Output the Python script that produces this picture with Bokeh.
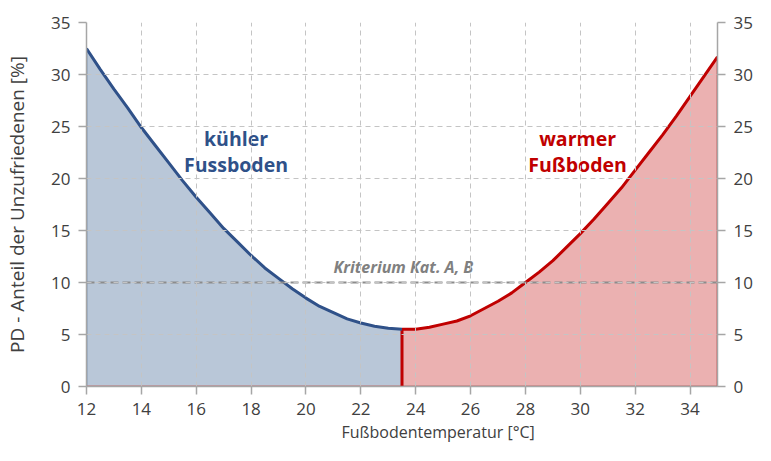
from bokeh.plotting import figure
from bokeh.models import Range1d, LinearAxis, FixedTicker, Title
from bokeh.core.properties import value
from bokeh.embed import file_html
from bokeh.resources import INLINE

# --- data ---
temp_cool = [12, 12.5, 13, 13.5, 14, 14.5, 15, 15.5, 16, 16.5, 17, 17.5, 18, 18.5,
             19, 19.5, 20, 20.5, 21, 21.5, 22, 22.5, 23, 23.5]
pd_cool = [32.5, 30.5, 28.6, 26.8, 24.9, 23.2, 21.5, 19.8, 18.2, 16.7, 15.2, 13.9, 12.6, 11.4,
           10.4, 9.4, 8.5, 7.7, 7.1, 6.5, 6.1, 5.8, 5.6, 5.5]
temp_warm = [23.5, 24, 24.5, 25, 25.5, 26, 26.5, 27, 27.5, 28, 28.5, 29, 29.5, 30, 30.5,
             31, 31.5, 32, 32.5, 33, 33.5, 34, 34.5, 35]
pd_warm = [5.5, 5.5, 5.7, 6.0, 6.3, 6.8, 7.5, 8.2, 9.0, 10.0, 11.0, 12.1, 13.4, 14.7, 16.1,
           17.6, 19.1, 20.8, 22.5, 24.2, 26.0, 27.9, 29.8, 31.7]
criterion = 10
x_ticks = [12, 14, 16, 18, 20, 22, 24, 26, 28, 30, 32, 34]
y_ticks = [0, 5, 10, 15, 20, 25, 30, 35]

FONT = "Open Sans"
BLUE = "#2f5189"
RED = "#c00000"

p = figure(width=755, height=445, output_backend="svg", toolbar_location=None,
           x_range=Range1d(12, 35), y_range=Range1d(0, 35),
           min_border_left=86, min_border_right=36, min_border_top=22, min_border_bottom=59)
p.outline_line_color = None
p.background_fill_color = "white"

# fills
p.varea(x=temp_cool, y1=[0] * len(temp_cool), y2=pd_cool, fill_color="#b9c7d8", fill_alpha=1)
p.varea(x=temp_warm, y1=[0] * len(temp_warm), y2=pd_warm, fill_color="#ebb1b1", fill_alpha=1)

# grid
for g in (p.xgrid, p.ygrid):
    g.grid_line_color = "#c4c4c4"
    g.grid_line_dash = "5 4"
    g.grid_line_width = 1
    g.level = "glyph"
p.xgrid.ticker = FixedTicker(ticks=x_ticks)
p.ygrid.ticker = FixedTicker(ticks=y_ticks)

# edges
p.line(x=[temp_cool[0], temp_cool[0]], y=[0, pd_cool[0]], line_color="#4a6f9f", line_width=1.5)
p.line(x=[temp_cool[0], temp_warm[-1]], y=[0, 0], line_color="#c06a6a", line_width=2)
p.line(x=[temp_warm[0], temp_warm[0]], y=[0, pd_warm[0]], line_color=RED, line_width=3)
p.line(x=[temp_warm[-1], temp_warm[-1]], y=[0, pd_warm[-1]], line_color=RED, line_width=1.5)

# curves
p.line(x=temp_cool, y=pd_cool, line_color=BLUE, line_width=3)
p.line(x=temp_warm, y=pd_warm, line_color=RED, line_width=3)

# criterion line
p.line(x=[12, 35], y=[criterion, criterion], line_color="#8c8c8c", line_width=2, line_dash="8 4")
p.text(x=[23.55], y=[11.45], text=["Kriterium Kat. A, B"], text_font=value(FONT),
       text_font_size="16px", text_font_style="bold italic", text_color="#808080",
       text_align="center", text_baseline="middle")

# region labels
p.text(x=[17.45, 17.45], y=[23.84, 21.36], text=["kühler", "Fussboden"], text_font=value(FONT),
       text_font_size="19.5px", text_font_style="bold", text_color=BLUE,
       text_align="center", text_baseline="middle")
p.text(x=[29.9, 29.9], y=[23.84, 21.36], text=["warmer", "Fußboden"], text_font=value(FONT),
       text_font_size="19.5px", text_font_style="bold", text_color=RED,
       text_align="center", text_baseline="middle")

# axes
AX = "#a6a6a6"
def style(ax):
    ax.axis_line_color = AX
    ax.axis_line_width = 1.5
    ax.major_tick_line_color = AX
    ax.major_tick_line_width = 1.5
    ax.major_tick_out = 8
    ax.major_tick_in = 0
    ax.minor_tick_line_color = None
    ax.major_label_text_font = FONT
    ax.major_label_text_font_size = "17px"
    ax.major_label_text_color = "#404040"

p.xaxis.ticker = FixedTicker(ticks=x_ticks)
p.yaxis.ticker = FixedTicker(ticks=y_ticks)
style(p.xaxis[0])
style(p.yaxis[0])
p.xaxis.major_label_standoff = 8
p.yaxis.major_label_standoff = 8
p.yaxis.axis_label = "PD - Anteil der Unzufriedenen [%]"
p.yaxis.axis_label_text_font = FONT
p.yaxis.axis_label_text_font_size = "19px"
p.yaxis.axis_label_text_font_style = "normal"
p.yaxis.axis_label_text_color = "#404040"
p.yaxis.axis_label_standoff = 18

ry = LinearAxis(ticker=FixedTicker(ticks=y_ticks))
style(ry)
ry.major_label_standoff = 8
p.add_layout(ry, "right")

xt = Title(text="Fußbodentemperatur  [°C]", align="left", offset=255,
           text_font=FONT, text_font_size="16px", text_font_style="normal",
           text_color="#404040", standoff=2)
p.add_layout(xt, "below")

open("out.html", "w").write(file_html(p, INLINE))
